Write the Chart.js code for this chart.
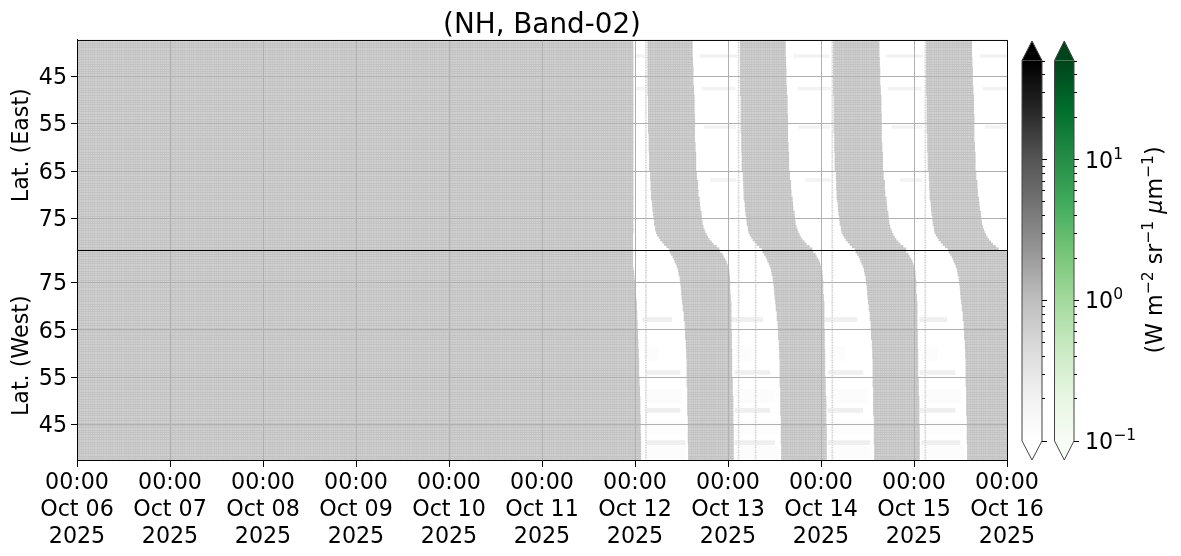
<!DOCTYPE html>
<html>
<head>
<meta charset="utf-8">
<script src="https://cdn.jsdelivr.net/npm/chart.js@4"></script>
<style>
  html, body { margin: 0; padding: 0; background: #fff; }
  #wrap { width: 1181px; height: 556px; }
</style>
</head>
<body>
<div id="wrap"><canvas id="chart" width="1181" height="556"></canvas></div>
<script>
// hours since Oct 06 00:00, one value per latitude row
const dayLabels = ['Oct 06', 'Oct 07', 'Oct 08', 'Oct 09', 'Oct 10', 'Oct 11', 'Oct 12', 'Oct 13', 'Oct 14', 'Oct 15', 'Oct 16'];
const latTicks = [45, 55, 65, 75];
const rowLats = [38, 40, 42, 44, 46, 48, 50, 52, 54, 56, 58, 60, 62, 64, 66, 68, 70, 71, 72, 73, 74, 75, 76, 77, 77.5, 78, 78.5, 79, 79.5, 80, 80.5, 81, 81.5];

const eastBlockEnd = [143.5, 143.5, 143.5, 143.5, 143.5, 143.5, 143.5, 143.5, 143.5, 143.5, 143.5, 143.5, 143.5, 143.5, 143.5, 143.5, 143.5, 143.5, 143.5, 143.5, 143.5, 143.5, 143.5, 143.5, 143.5, 143.5, 143.4, 143.4, 143.4, 143.4, 143.4, 143.4, 143.4];
const eastStart1 = [147.3, 147.3, 147.3, 147.3, 147.3, 147.3, 147.45, 147.45, 147.45, 147.45, 147.6, 147.6, 147.7, 147.7, 148, 148.1, 148.2, 148.35, 148.5, 148.6, 148.7, 148.9, 149, 149.3, 149.4, 149.5, 149.8, 150.2, 150.55, 151.1, 151.6, 152.2, 152.9];
const eastEnd1 = [158.8, 158.8, 158.9, 159, 159, 159.15, 159.3, 159.3, 159.4, 159.4, 159.4, 159.55, 159.7, 159.7, 159.9, 160.2, 160.3, 160.6, 160.7, 160.8, 161.1, 161.2, 161.35, 161.6, 161.9, 162.1, 162.4, 162.75, 163.15, 163.7, 164.2, 165, 165.7];
const eastStart2 = [171.2, 171.2, 171.2, 171.2, 171.2, 171.2, 171.35, 171.35, 171.35, 171.35, 171.5, 171.5, 171.6, 171.6, 171.9, 172, 172.1, 172.25, 172.4, 172.5, 172.6, 172.8, 172.9, 173.2, 173.3, 173.4, 173.7, 174.1, 174.45, 175, 175.5, 176.1, 176.8];
const eastEnd2 = [182.8, 182.8, 182.9, 183, 183, 183.15, 183.3, 183.3, 183.4, 183.4, 183.4, 183.55, 183.7, 183.7, 183.9, 184.2, 184.3, 184.6, 184.7, 184.8, 185.1, 185.2, 185.35, 185.6, 185.9, 186.1, 186.4, 186.75, 187.15, 187.7, 188.2, 189, 189.7];
const eastStart3 = [195.2, 195.2, 195.2, 195.2, 195.2, 195.2, 195.35, 195.35, 195.35, 195.35, 195.5, 195.5, 195.6, 195.6, 195.9, 196, 196.1, 196.25, 196.4, 196.5, 196.6, 196.8, 196.9, 197.2, 197.3, 197.4, 197.7, 198.1, 198.45, 199, 199.5, 200.1, 200.8];
const eastEnd3 = [207, 207, 207.1, 207.2, 207.2, 207.35, 207.5, 207.5, 207.6, 207.6, 207.6, 207.75, 207.9, 207.9, 208.1, 208.4, 208.5, 208.8, 208.9, 209, 209.3, 209.4, 209.55, 209.8, 210.1, 210.3, 210.6, 210.95, 211.35, 211.9, 212.4, 213.2, 213.9];
const eastStart4 = [219.2, 219.2, 219.2, 219.2, 219.2, 219.2, 219.35, 219.35, 219.35, 219.35, 219.5, 219.5, 219.6, 219.6, 219.9, 220, 220.1, 220.25, 220.4, 220.5, 220.6, 220.8, 220.9, 221.2, 221.3, 221.4, 221.7, 222.1, 222.45, 223, 223.5, 224.1, 224.8];
const eastEnd4 = [230.9, 230.9, 231, 231.1, 231.1, 231.25, 231.4, 231.4, 231.5, 231.5, 231.5, 231.65, 231.8, 231.8, 232, 232.3, 232.4, 232.7, 232.8, 232.9, 233.2, 233.3, 233.45, 233.7, 234, 234.2, 234.5, 234.85, 235.25, 235.8, 236.3, 237.1, 237.8];

const westBlockEnd = [145.5, 145.5, 145.5, 145.4, 145.4, 145.3, 145.3, 145.2, 145.1, 145, 145, 144.9, 144.8, 144.7, 144.6, 144.5, 144.4, 144.3, 144.2, 144.1, 144, 143.9, 143.8, 143.7, 143.6, 143.5, 143.4, 143.4, 143.4, 143.4, 143.4, 143.4, 143.4];
const westStart1 = [157.8, 157.8, 157.7, 157.7, 157.7, 157.55, 157.55, 157.55, 157.4, 157.4, 157.4, 157.3, 157.2, 157, 156.9, 156.65, 156.4, 156.25, 156.1, 156, 155.9, 155.75, 155.6, 155.35, 155.2, 155.1, 154.85, 154.6, 154.3, 154.1, 153.8, 153.4, 153];
const westEnd1 = [169.4, 169.4, 169.4, 169.4, 169.3, 169.3, 169.3, 169.15, 169.15, 169, 169, 169, 168.9, 168.9, 168.8, 168.8, 168.8, 168.65, 168.65, 168.5, 168.5, 168.5, 168.4, 168.3, 168.1, 168, 167.9, 167.7, 167.5, 167.2, 166.8, 166.5, 165.9];
const westStart2 = [181.8, 181.8, 181.7, 181.7, 181.7, 181.55, 181.55, 181.55, 181.4, 181.4, 181.4, 181.3, 181.2, 181, 180.9, 180.65, 180.4, 180.25, 180.1, 180, 179.9, 179.75, 179.6, 179.35, 179.2, 179.1, 178.85, 178.6, 178.3, 178.1, 177.8, 177.4, 177];
const westEnd2 = [193.4, 193.4, 193.4, 193.4, 193.3, 193.3, 193.3, 193.15, 193.15, 193, 193, 193, 192.9, 192.9, 192.8, 192.8, 192.8, 192.65, 192.65, 192.5, 192.5, 192.5, 192.4, 192.3, 192.1, 192, 191.9, 191.7, 191.5, 191.2, 190.8, 190.5, 189.9];
const westStart3 = [205.8, 205.8, 205.7, 205.7, 205.7, 205.55, 205.55, 205.55, 205.4, 205.4, 205.4, 205.3, 205.2, 205, 204.9, 204.65, 204.4, 204.25, 204.1, 204, 203.9, 203.75, 203.6, 203.35, 203.2, 203.1, 202.85, 202.6, 202.3, 202.1, 201.8, 201.4, 201];
const westEnd3 = [217.4, 217.4, 217.4, 217.4, 217.3, 217.3, 217.3, 217.15, 217.15, 217, 217, 217, 216.9, 216.9, 216.8, 216.8, 216.8, 216.65, 216.65, 216.5, 216.5, 216.5, 216.4, 216.3, 216.1, 216, 215.9, 215.7, 215.5, 215.2, 214.8, 214.5, 213.9];
const westStart4 = [229.8, 229.8, 229.7, 229.7, 229.7, 229.55, 229.55, 229.55, 229.4, 229.4, 229.4, 229.3, 229.2, 229, 228.9, 228.65, 228.4, 228.25, 228.1, 228, 227.9, 227.75, 227.6, 227.35, 227.2, 227.1, 226.85, 226.6, 226.3, 226.1, 225.8, 225.4, 225];

// pale stripes where a whole time step has a few counts
const paleColumnTimes = [146.7, 170.6, 175, 194.8, 218.8];

// faint streaks on the night side: lat, start hour, end hour
const eastPatchLats = [40.7, 40.7, 40.7, 40.7, 40.7, 47.6, 47.6, 47.6, 47.6, 47.6, 55.7, 55.7, 55.7, 55.7, 66.9, 66.9, 66.9];
const eastPatchStart = [144, 160.8, 185, 208.8, 233, 144, 161.3, 186, 209.3, 233.8, 161.9, 186.2, 210.3, 234.3, 163.5, 188, 212.4];
const eastPatchEnd = [146.7, 170.3, 194, 218.3, 240, 146.7, 169.8, 194.5, 217.9, 240, 170, 194.2, 218.1, 240, 170, 194.5, 218];
const westPatchLats = [67.2, 67.2, 67.2, 67.2, 56, 56, 56, 56, 48, 48, 48, 48, 41.2, 41.2, 41.2, 41.2];
const westPatchStart = [146, 168.5, 193, 217.5, 146.6, 169.8, 193.8, 217.5, 146.6, 169.8, 193.8, 217.5, 146.8, 169.8, 193.8, 218];
const westPatchEnd = [153.5, 177, 201.3, 224.5, 155.6, 178.8, 202.8, 226.6, 155.6, 178.8, 202.8, 226.6, 156.9, 180, 204.6, 227.9];
const westWashLats = [39, 39, 39, 39, 44.5, 44.5, 44.5, 44.5, 51, 51, 51, 51, 60, 60, 60, 60];
const westWashStart = [146.8, 170, 194, 218, 146.8, 170, 194, 218, 146.6, 170, 194, 218, 146.4, 170, 194, 218];
const westWashEnd = [157, 181, 205, 229, 157, 181, 205, 229, 156, 180, 204, 228, 150, 174, 198, 222];

const colorbarMin = 0.1;
const colorbarMax = 50;
const colorbarMajor = [0.1, 1, 10];
const colorbarExponents = ['\u22121', '0', '1'];
const colorbarMinor = [0.2, 0.3, 0.4, 0.5, 0.6, 0.7, 0.8, 0.9, 2, 3, 4, 5, 6, 7, 8, 9, 20, 30, 40, 50];
const greys = ['#ffffff', '#f0f0f0', '#d9d9d9', '#bdbdbd', '#969696', '#737373', '#525252', '#252525', '#000000'];
const greens = ['#f7fcf5', '#e5f5e0', '#c7e9c0', '#a1d99b', '#74c476', '#41ab5d', '#238b45', '#006d2c', '#00441b'];

const FONT = '"DejaVu Sans", sans-serif';
const LABEL_SIZE = 22.2;

// row spacing changes at two latitudes, so each group has its own thickness
const rowGroups = [[0, 17, 9.6], [17, 24, 4.9], [24, 33, 2.5]];

// mesh look of the pcolormesh cells
function meshPattern() {
    const c = document.createElement('canvas');
    c.width = 9;
    c.height = 19;
    const g = c.getContext('2d');
    g.fillStyle = '#d1d1d1';
    g.fillRect(0, 0, 9, 19);
    g.fillStyle = '#c8c8c8';
    [0, 2, 4, 7].forEach(col => g.fillRect(col, 0, 1, 19));
    g.fillStyle = '#c2c2c2';
    [0, 2, 5, 7, 9, 12, 14, 16].forEach(r => g.fillRect(0, r, 9, 1));
    return g.createPattern(c, 'repeat');
}
function dashPattern() {
    const c = document.createElement('canvas');
    c.width = 1;
    c.height = 5;
    const g = c.getContext('2d');
    g.fillStyle = '#d6d6d6';
    [0, 2].forEach(r => g.fillRect(0, r, 1, 1));
    g.fillStyle = '#ececec';
    [1, 3, 4].forEach(r => g.fillRect(0, r, 1, 1));
    return g.createPattern(c, 'repeat');
}
const mesh = meshPattern();
const dash = dashPattern();

function rowSets(axis, starts, ends, color, order) {
    return rowGroups.map(([from, to, px]) => ({
        yAxisID: axis,
        grouped: false,
        data: rowLats.slice(from, to).map((lat, i) => ({ y: lat, x: [starts[from + i], ends[from + i]] })),
        backgroundColor: color,
        barThickness: px,
        order: order
    }));
}
function patchSet(axis, lats, starts, ends, color, thick) {
    return {
        yAxisID: axis,
        grouped: false,
        data: lats.map((lat, i) => ({ y: lat, x: [starts[i], ends[i]] })),
        backgroundColor: color,
        barThickness: thick,
        order: 3
    };
}
const zeros = rowLats.map(() => 0);
const lastHour = rowLats.map(() => 240);
const datasets = [
    ...rowSets('yEast', zeros, eastBlockEnd, mesh, 1),
    ...rowSets('yEast', eastStart1, eastEnd1, mesh, 1),
    ...rowSets('yEast', eastStart2, eastEnd2, mesh, 1),
    ...rowSets('yEast', eastStart3, eastEnd3, mesh, 1),
    ...rowSets('yEast', eastStart4, eastEnd4, mesh, 1),
    ...rowSets('yWest', zeros, westBlockEnd, mesh, 1),
    ...rowSets('yWest', westStart1, westEnd1, mesh, 1),
    ...rowSets('yWest', westStart2, westEnd2, mesh, 1),
    ...rowSets('yWest', westStart3, westEnd3, mesh, 1),
    ...rowSets('yWest', westStart4, lastHour, mesh, 1),
    patchSet('yEast', eastPatchLats, eastPatchStart, eastPatchEnd, 'rgba(190,190,190,0.18)', 3),
    patchSet('yWest', westPatchLats, westPatchStart, westPatchEnd, 'rgba(190,190,190,0.25)', 4),
    patchSet('yWest', westWashLats, westWashStart, westWashEnd, 'rgba(200,200,200,0.06)', 14)
];
paleColumnTimes.forEach(t => {
    const from = rowLats.map(() => t);
    const to = rowLats.map(() => t + 0.25);
    datasets.push(...rowSets('yEast', from, to, dash, 2));
    datasets.push(...rowSets('yWest', from, to, dash, 2));
});

function latAxis(title, reverse, weight) {
    return {
        type: 'linear',
        position: 'left',
        stack: 'lat',
        stackWeight: 1,
        offset: false,
        weight: weight,
        reverse: reverse,
        min: 37.3,
        max: 81.8,
        afterBuildTicks: s => { s.ticks = latTicks.map(v => ({ value: v })); },
        afterFit: s => { s.width = 77; },
        grid: { color: '#b0b0b0', lineWidth: 1, z: 1, offset: false, tickColor: '#000', tickLength: 6 },
        border: { color: '#000', width: 1, z: 2 },
        ticks: { color: '#000', font: { family: FONT, size: LABEL_SIZE }, padding: 4, labelOffset: 2, callback: v => String(v) },
        title: { display: true, text: title, color: '#000', font: { family: FONT, size: LABEL_SIZE }, padding: { top: 9, bottom: 5 } }
    };
}

// text runs with raised exponents, like the mathtext of the original
function runWidth(ctx, runs) {
    let w = 0;
    runs.forEach(r => {
        ctx.font = `${r.italic ? 'italic ' : ''}${r.sup ? LABEL_SIZE * 0.7 : LABEL_SIZE}px ${FONT}`;
        w += ctx.measureText(r.text).width;
    });
    return w;
}
function drawRuns(ctx, runs) {
    let x = 0;
    ctx.textAlign = 'left';
    ctx.textBaseline = 'alphabetic';
    ctx.fillStyle = '#000';
    runs.forEach(r => {
        ctx.font = `${r.italic ? 'italic ' : ''}${r.sup ? LABEL_SIZE * 0.7 : LABEL_SIZE}px ${FONT}`;
        ctx.fillText(r.text, x, r.sup ? -9 : 0);
        x += ctx.measureText(r.text).width;
    });
}
const unitRuns = [
    { text: '(W m' }, { text: '\u22122', sup: true }, { text: ' sr' }, { text: '\u22121', sup: true },
    { text: ' ' }, { text: '\u03BC', italic: true }, { text: 'm' }, { text: '\u22121', sup: true }, { text: ')' }
];

// both colorbars with their ticks, placed on the log axis at the right
const colorbarPlugin = {
    id: 'colorbars',
    afterDraw(chart) {
        const scale = chart.scales.cb;
        const area = chart.chartArea;
        const ctx = chart.ctx;
        const yTop = scale.getPixelForValue(colorbarMax);
        const yBot = scale.getPixelForValue(colorbarMin);

        // frame sides the axes do not draw, and the line between the panels
        ctx.save();
        ctx.strokeStyle = '#000';
        ctx.lineWidth = 1;
        const midY = Math.floor(chart.scales.yEast.bottom) + 0.5;
        ctx.beginPath();
        ctx.moveTo(area.left, area.top + 0.5);
        ctx.lineTo(area.right + 0.5, area.top + 0.5);
        ctx.lineTo(area.right + 0.5, area.bottom);
        ctx.moveTo(area.left, midY);
        ctx.lineTo(area.right, midY);
        ctx.stroke();
        ctx.restore();

        const drawBar = (x0, x1, stops, over, under) => {
            const mid = (x0 + x1) / 2;
            const grad = ctx.createLinearGradient(0, yBot, 0, yTop);
            stops.forEach((c, i) => grad.addColorStop(i / (stops.length - 1), c));
            ctx.save();
            ctx.beginPath();
            ctx.moveTo(x0, yTop);
            ctx.lineTo(mid, area.top + 1);
            ctx.lineTo(x1, yTop);
            ctx.closePath();
            ctx.fillStyle = over;
            ctx.fill();
            ctx.beginPath();
            ctx.moveTo(x0, yBot);
            ctx.lineTo(mid, area.bottom - 1);
            ctx.lineTo(x1, yBot);
            ctx.closePath();
            ctx.fillStyle = under;
            ctx.fill();
            ctx.fillStyle = grad;
            ctx.fillRect(x0, yTop, x1 - x0, yBot - yTop);
            ctx.beginPath();
            ctx.moveTo(x0, yTop);
            ctx.lineTo(mid, area.top + 1);
            ctx.lineTo(x1, yTop);
            ctx.lineTo(x1, yBot);
            ctx.lineTo(mid, area.bottom - 1);
            ctx.lineTo(x0, yBot);
            ctx.closePath();
            ctx.strokeStyle = '#444';
            ctx.lineWidth = 1;
            ctx.stroke();
            ctx.strokeStyle = '#000';
            const tick = (v, len) => {
                const y = Math.round(scale.getPixelForValue(v)) + 0.5;
                ctx.beginPath();
                ctx.moveTo(x1, y);
                ctx.lineTo(x1 + len, y);
                ctx.stroke();
            };
            colorbarMajor.forEach(v => tick(v, 5));
            colorbarMinor.forEach(v => tick(v, 3));
            ctx.restore();
        };
        drawBar(1022, 1042, greys, '#000000', '#ffffff');
        drawBar(1054.5, 1074, greens, '#00441b', '#f7fcf5');

        colorbarMajor.forEach((v, i) => {
            ctx.save();
            ctx.translate(1085, scale.getPixelForValue(v) + 8.5);
            drawRuns(ctx, [{ text: '10' }, { text: colorbarExponents[i], sup: true }]);
            ctx.restore();
        });

        // unit label reads bottom to top, the right axis title would flip it
        ctx.save();
        const w = runWidth(ctx, unitRuns);
        ctx.translate(1162, 250 + w / 2);
        ctx.rotate(-Math.PI / 2);
        drawRuns(ctx, unitRuns);
        ctx.restore();
    }
};

new Chart(document.getElementById('chart'), {
    type: 'bar',
    data: { datasets: datasets },
    plugins: [colorbarPlugin],
    options: {
        indexAxis: 'y',
        responsive: false,
        animation: false,
        layout: { padding: 0 },
        plugins: {
            legend: { display: false },
            tooltip: { enabled: false },
            title: {
                display: true,
                fullSize: false,
                text: '(NH, Band-02)',
                color: '#000',
                font: { family: FONT, size: 27.8, weight: 'normal' },
                padding: { top: 9, bottom: -2.4 }
            }
        },
        scales: {
            x: {
                type: 'linear',
                min: 0,
                max: 240,
                afterBuildTicks: s => { s.ticks = dayLabels.map((d, i) => ({ value: i * 24 })); },
                afterFit: s => { s.height = 95; },
                grid: { color: '#b0b0b0', lineWidth: 1, z: 1, tickColor: '#000', tickLength: 6 },
                border: { color: '#000', width: 1, z: 2 },
                ticks: {
                    color: '#000',
                    maxRotation: 0,
                    autoSkip: false,
                    padding: 3,
                    font: { family: FONT, size: LABEL_SIZE, lineHeight: 1.22 },
                    callback: v => ['00:00', dayLabels[v / 24], '2025']
                }
            },
            yEast: latAxis('Lat. (East)', true, 1),
            yWest: latAxis('Lat. (West)', false, 0),
            cb: {
                type: 'logarithmic',
                position: 'right',
                min: 0.072,
                max: 70,
                afterFit: s => { s.width = 174; s.paddingTop = 0; s.paddingBottom = 0; },
                grid: { display: false, drawTicks: false },
                border: { display: false },
                ticks: { display: false }
            }
        }
    }
});
</script>
</body>
</html>
